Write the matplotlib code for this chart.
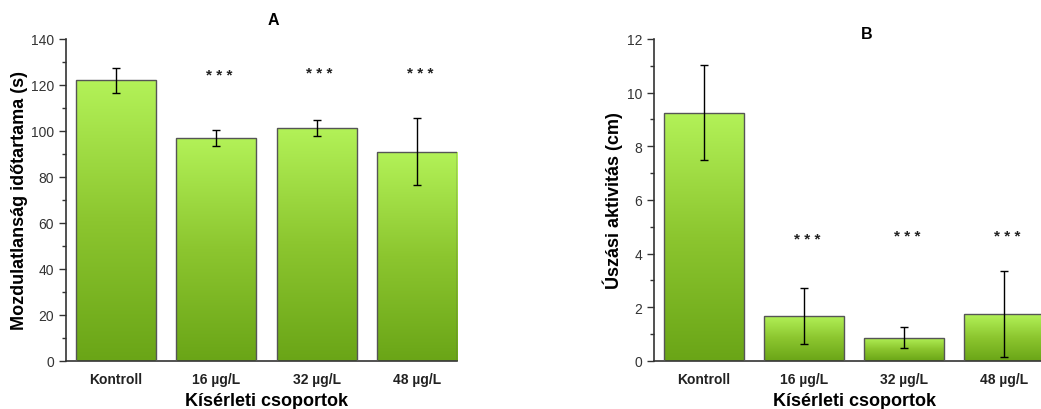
import numpy as np
import matplotlib.pyplot as plt
from matplotlib.colors import LinearSegmentedColormap
from matplotlib.ticker import MultipleLocator

plt.rcParams['font.family'] = ['Liberation Sans', 'DejaVu Sans']

groups = ['Kontroll', '16 µg/L', '32 µg/L', '48 µg/L']

# A: immobility duration (s)
imm_mean = [122.0, 97.0, 101.4, 91.0]
imm_err = [5.5, 3.6, 3.5, 14.5]
imm_star = [None, 124.3, 125.0, 125.0]

# B: swimming activity (cm)
swim_mean = [9.26, 1.68, 0.86, 1.75]
swim_err = [1.77, 1.05, 0.39, 1.60]
swim_star = [None, 4.55, 4.65, 4.65]

green = LinearSegmentedColormap.from_list('g', ['#6aa517', '#8cc62f', '#b3f258'])
grad = np.linspace(0, 1, 256).reshape(-1, 1)

fig = plt.figure(figsize=(10.41, 4.10), dpi=100)
axA = fig.add_axes([0.0634, 0.1171, 0.3756, 0.7854])
axB = fig.add_axes([0.6282, 0.1171, 0.3746, 0.7854])


def panel(ax, means, errs, stars, ylim, major, minor, ylabel, title, title_xy, ylab_x):
    x = np.arange(len(groups))
    bars = ax.bar(x, means, width=0.8, color='none', edgecolor='#555555',
                  linewidth=1.0, zorder=3)
    for b in bars:
        x0, y0 = b.get_x(), b.get_y()
        im = ax.imshow(grad, cmap=green, aspect='auto', origin='lower',
                       extent=(x0, x0 + b.get_width(), y0, y0 + b.get_height()),
                       zorder=2)
        im.set_clip_path(b)
    ax.errorbar(x, means, yerr=errs, fmt='none', ecolor='black', elinewidth=1.0,
                capsize=2.6, capthick=1.0, zorder=4)
    for xi, s in zip(x, stars):
        if s is not None:
            ax.text(xi + 0.03, s, '* * *', ha='center', va='center', fontsize=11,
                    color='#222222', fontweight='bold')
    ax.set_xlim(-0.5, 3.4)
    ax.set_ylim(*ylim)
    ax.yaxis.set_major_locator(MultipleLocator(major))
    ax.yaxis.set_minor_locator(MultipleLocator(minor))
    ax.set_xticks(x)
    ax.set_xticklabels(groups, fontweight='bold', fontsize=10)
    ax.tick_params(axis='x', length=0, pad=8, colors='#222222')
    ax.tick_params(axis='y', which='major', length=5, width=1, direction='out',
                   labelsize=10, colors='#333333')
    ax.tick_params(axis='y', which='minor', length=3, width=1, direction='out',
                   colors='#333333')
    for sp in ['top', 'right']:
        ax.spines[sp].set_visible(False)
    for sp in ['left', 'bottom']:
        ax.spines[sp].set_color('#333333')
        ax.spines[sp].set_linewidth(1.2)
    ax.set_ylabel(ylabel, fontsize=13, fontweight='bold')
    ax.yaxis.set_label_coords(ylab_x, 0.5)
    ax.set_xlabel('Kísérleti csoportok', fontsize=13, fontweight='bold')
    ax.xaxis.set_label_coords(0.514, -0.096)
    ax.text(title_xy[0], title_xy[1], title, transform=ax.transAxes, ha='center',
            va='center', fontsize=11.5, fontweight='bold')


panel(axA, imm_mean, imm_err, imm_star, (0, 140), 20, 10,
      'Mozdulatlanság időtartama (s)', 'A', (0.53, 1.06), -0.097)
panel(axB, swim_mean, swim_err, swim_star, (0, 12), 2, 1,
      'Úszási aktivitás (cm)', 'B', (0.546, 1.016), -0.079)

fig.savefig('out.png', dpi=100)
